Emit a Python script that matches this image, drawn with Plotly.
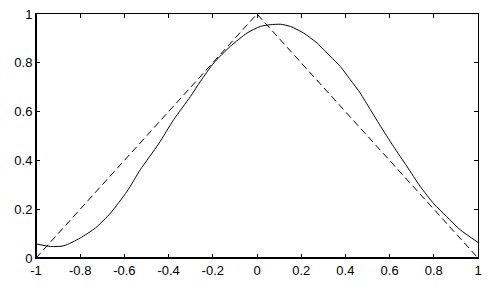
import plotly.graph_objects as go

# Dashed triangle (hat function)
hat_x = [-1, 0, 1]
hat_y = [0, 1, 0]

# Solid smooth approximation
curve_x = [-1, -0.934, -0.874, -0.8, -0.731, -0.663, -0.588, -0.528, -0.445, -0.377, -0.301,
           -0.256, -0.196, -0.12, -0.045, 0.015, 0.06, 0.106, 0.151, 0.211, 0.272, 0.332,
           0.377, 0.422, 0.467, 0.513, 0.555, 0.617, 0.678, 0.738, 0.8, 0.858, 0.919, 1]
curve_y = [0.058, 0.047, 0.050, 0.082, 0.123, 0.184, 0.273, 0.362, 0.468, 0.567, 0.662,
           0.724, 0.799, 0.868, 0.922, 0.949, 0.956, 0.958, 0.949, 0.922, 0.881, 0.826,
           0.785, 0.731, 0.676, 0.608, 0.546, 0.458, 0.376, 0.294, 0.222, 0.170, 0.116, 0.064]

x_ticks = [-1, -0.8, -0.6, -0.4, -0.2, 0, 0.2, 0.4, 0.6, 0.8, 1]
x_labels = ["-1", "-0.8", "-0.6", "-0.4", "-0.2", "0", "0.2", "0.4", "0.6", "0.8", "1"]
y_ticks = [0, 0.2, 0.4, 0.6, 0.8, 1]
y_labels = ["0", "0.2", "0.4", "0.6", "0.8", "1"]

fig = go.Figure()
fig.add_trace(go.Scatter(x=curve_x, y=curve_y, mode="lines",
                         line=dict(color="black", width=1, shape="spline", smoothing=0.6)))
fig.add_trace(go.Scatter(x=hat_x, y=hat_y, mode="lines",
                         line=dict(color="black", width=1, dash="7px,4px")))

axis_common = dict(showgrid=False, zeroline=False, showline=True, linecolor="black",
                   linewidth=1, mirror="ticks", ticks="inside", ticklen=4, tickwidth=1,
                   tickcolor="black", automargin=False,
                   tickfont=dict(family="Liberation Sans, Arial", size=13, color="black"))

fig.update_xaxes(range=[-1, 1], tickvals=x_ticks, ticktext=x_labels, **axis_common)
fig.update_yaxes(range=[0, 1], tickvals=y_ticks, ticktext=y_labels, **axis_common)

# thicker left and bottom axis lines
fig.add_shape(type="line", xref="paper", yref="paper", x0=0, x1=0, y0=0, y1=1,
              line=dict(color="black", width=2))
fig.add_shape(type="line", xref="paper", yref="paper", x0=0, x1=1, y0=0, y1=0,
              line=dict(color="black", width=2))

fig.update_layout(width=489, height=286, margin=dict(l=36, r=11, t=14, b=28, pad=0),
                  paper_bgcolor="white", plot_bgcolor="white", showlegend=False)

fig.write_html("out.html", config={"displayModeBar": False},
               post_script="document.body.style.margin='0';")
